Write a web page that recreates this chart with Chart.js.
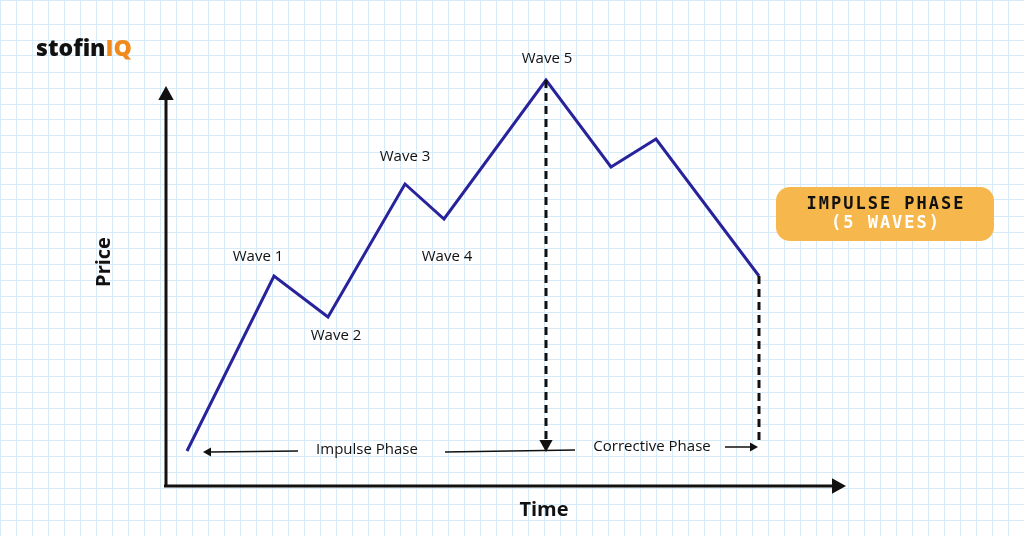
<!DOCTYPE html>
<html>
<head>
<meta charset="utf-8">
<script src="https://cdn.jsdelivr.net/npm/chart.js@4.4.1/dist/chart.umd.min.js"></script>
<style>
  html, body { margin: 0; padding: 0; background: #fff; }
  #wrap { width: 1024px; height: 536px; }
</style>
</head>
<body>
<div id="wrap"><canvas id="chart"></canvas></div>
<script>
// wave points (time, price) - price measured up from the bottom
const timeValues = [187, 274, 328, 405, 444, 546, 611, 656, 759];
const priceValues = [85, 260, 219, 352, 317, 456, 369, 397, 260];
const waveLabels = ['', 'Wave 1', 'Wave 2', 'Wave 3', 'Wave 4', 'Wave 5', '', '', ''];
const labelPos = [null, [258, 257], [336, 336], [405, 157], [447, 257], [547, 59], null, null, null];

const H = 536;

function arrowHead(ctx, x, y, ang, size) {
  ctx.save();
  ctx.translate(x, y);
  ctx.rotate(ang);
  ctx.beginPath();
  ctx.moveTo(0, 0);
  ctx.lineTo(-size, -size * 0.55);
  ctx.lineTo(-size, size * 0.55);
  ctx.closePath();
  ctx.fill();
  ctx.restore();
}

const overlay = {
  id: 'overlay',
  afterDatasetsDraw(chart) {
    const ctx = chart.ctx;
    const xs = chart.scales.x, ys = chart.scales.y;
    const px = v => xs.getPixelForValue(v);
    const py = v => ys.getPixelForValue(v);
    ctx.save();
    ctx.fillStyle = '#111';
    ctx.strokeStyle = '#111';
    // axes
    ctx.lineWidth = 3;
    ctx.beginPath();
    ctx.moveTo(166, 486); ctx.lineTo(166, 96);
    ctx.moveTo(164, 486); ctx.lineTo(836, 486);
    ctx.stroke();
    arrowHead(ctx, 166, 86, -Math.PI / 2, 14);
    arrowHead(ctx, 846, 486, 0, 14);
    // dashed verticals
    ctx.lineWidth = 3;
    ctx.setLineDash([8, 5]);
    ctx.beginPath();
    ctx.moveTo(px(timeValues[5]), py(priceValues[5]));
    ctx.lineTo(px(timeValues[5]), 440);
    ctx.moveTo(px(timeValues[8]), py(priceValues[8]));
    ctx.lineTo(px(timeValues[8]), 440);
    ctx.stroke();
    ctx.setLineDash([]);
    arrowHead(ctx, 546, 452, Math.PI / 2, 12);
    // phase arrows
    ctx.lineWidth = 1.3;
    ctx.beginPath();
    ctx.moveTo(298, 451); ctx.lineTo(210, 452);
    ctx.moveTo(445, 452); ctx.lineTo(575, 450);
    ctx.moveTo(725, 447); ctx.lineTo(752, 447);
    ctx.stroke();
    arrowHead(ctx, 203, 452, Math.PI, 8);
    arrowHead(ctx, 758, 447, 0, 8);
    // text
    ctx.font = '15px "Open Sans", sans-serif';
    ctx.textAlign = 'center';
    ctx.textBaseline = 'middle';
    waveLabels.forEach((t, i) => { if (t) ctx.fillText(t, labelPos[i][0], labelPos[i][1]); });
    ctx.fillText('Impulse Phase', 367, 450);
    ctx.fillText('Corrective Phase', 652, 447);
    ctx.font = 'bold 20px "Open Sans", sans-serif';
    ctx.fillText('Time', 544, 510);
    ctx.save();
    ctx.translate(104, 262);
    ctx.rotate(-Math.PI / 2);
    ctx.fillText('Price', 0, 0);
    ctx.restore();
    // logo
    ctx.textAlign = 'left';
    ctx.font = '800 23px "Open Sans", sans-serif';
    ctx.fillStyle = '#111';
    ctx.fillText('stofin', 36, 49);
    const w = ctx.measureText('stofin').width;
    ctx.fillStyle = '#f08a1c';
    ctx.fillText('IQ', 36 + w, 49);
    // badge
    ctx.fillStyle = '#f6b84c';
    ctx.beginPath();
    ctx.roundRect(776, 187, 218, 54, 14);
    ctx.fill();
    ctx.textAlign = 'center';
    ctx.letterSpacing = '2px';
    ctx.font = 'bold 17px "DejaVu Sans Mono", monospace';
    ctx.fillStyle = '#111';
    ctx.fillText('IMPULSE PHASE', 886, 205);
    ctx.fillStyle = '#fff';
    ctx.fillText('(5 WAVES)', 886, 224);
    ctx.restore();
  }
};

new Chart(document.getElementById('chart'), {
  type: 'line',
  data: {
    datasets: [{
      data: timeValues.map((t, i) => ({ x: t, y: priceValues[i] })),
      borderColor: '#28239a',
      borderWidth: 3,
      pointRadius: 0,
      tension: 0,
      fill: false
    }]
  },
  options: {
    responsive: true,
    maintainAspectRatio: false,
    animation: false,
    layout: { padding: 0 },
    plugins: { legend: { display: false }, tooltip: { enabled: false } },
    scales: {
      x: {
        type: 'linear', min: 0, max: 1024,
        ticks: { display: false, stepSize: 16 },
        grid: { color: '#d6ebf7', lineWidth: 1, drawTicks: false },
        border: { display: false }
      },
      y: {
        type: 'linear', min: 0, max: H,
        ticks: { display: false, stepSize: 16 },
        grid: { color: '#d6ebf7', lineWidth: 1, drawTicks: false },
        border: { display: false }
      }
    }
  },
  plugins: [overlay]
});
</script>
</body>
</html>
